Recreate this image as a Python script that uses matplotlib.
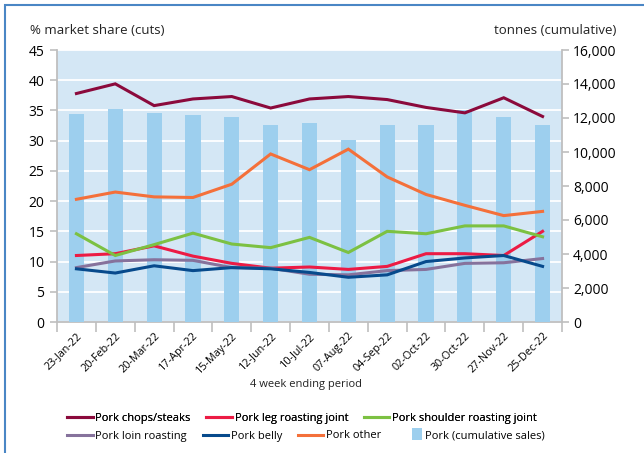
import matplotlib.pyplot as plt
from matplotlib.patches import Rectangle
from matplotlib.legend_handler import HandlerPatch

plt.rcParams['font.family'] = ['Open Sans', 'DejaVu Sans']

periods = ['23-Jan-22', '20-Feb-22', '20-Mar-22', '17-Apr-22', '15-May-22', '12-Jun-22',
           '10-Jul-22', '07-Aug-22', '04-Sep-22', '02-Oct-22', '30-Oct-22', '27-Nov-22',
           '25-Dec-22']

chops = [37.8, 39.4, 35.8, 36.9, 37.3, 35.4, 36.9, 37.3, 36.8, 35.5, 34.6, 37.1, 34.0]
leg = [11.0, 11.3, 12.6, 10.9, 9.7, 8.9, 9.1, 8.7, 9.2, 11.3, 11.3, 11.0, 15.0]
shoulder = [14.6, 11.0, 12.8, 14.7, 12.9, 12.3, 14.0, 11.5, 15.0, 14.6, 15.9, 15.9, 14.1]
loin = [9.0, 10.1, 10.3, 10.2, 9.0, 8.9, 7.9, 7.8, 8.5, 8.7, 9.7, 9.8, 10.5]
belly = [8.8, 8.1, 9.3, 8.5, 9.0, 8.8, 8.2, 7.4, 7.8, 10.0, 10.6, 11.0, 9.2]
other = [20.3, 21.5, 20.7, 20.6, 22.8, 27.8, 25.2, 28.6, 24.0, 21.1, 19.3, 17.6, 18.3]
cumulative = [12250, 12500, 12320, 12150, 12080, 11600, 11730, 10720, 11600, 11600, 12450, 12080, 11600]

series = [
    ('Pork chops/steaks', chops, '#8B0A3C'),
    ('Pork leg roasting joint', leg, '#EC1B44'),
    ('Pork shoulder roasting joint', shoulder, '#7CC142'),
    ('Pork loin roasting', loin, '#86729C'),
    ('Pork belly', belly, '#074A8C'),
    ('Pork other', other, '#F4703A'),
]

grey = '#BFBFBF'
x = list(range(len(periods)))

fig = plt.figure(figsize=(6.44, 4.53), dpi=100)
ax = fig.add_axes([57 / 644, 1 - 322 / 453, 505 / 644, 272 / 453])
ax.set_facecolor('#D4E7F5')
ax.set_xlim(-0.5, len(periods) - 0.5)
ax.set_ylim(0, 45)
ax.set_yticks(range(0, 46, 5))
ax.yaxis.grid(True, color='white', lw=1.3)
ax.set_axisbelow(True)

# bars on the right axis
axb = ax.twinx()
axb.bar(x, cumulative, width=0.39, color='#9DCFEE', zorder=2,
        label='Pork (cumulative sales)')
axb.set_ylim(0, 16000)
axb.set_yticks(range(0, 16001, 2000))
axb.set_yticklabels([f'{v:,}' for v in range(0, 16001, 2000)])

# lines on top of bars
axl = ax.twinx()
axl.set_ylim(0, 45)
axl.axis('off')
handles = {}
for name, vals, col in series:
    h, = axl.plot(x, vals, color=col, lw=2.2, label=name, solid_joinstyle='miter')
    handles[name] = h

for a in (ax, axb):
    for s in a.spines.values():
        s.set_color(grey)
        s.set_linewidth(1.3)
    a.spines['top'].set_visible(False)
ax.spines['right'].set_visible(False)
axb.spines['left'].set_visible(False)
axb.spines['bottom'].set_visible(False)

ax.tick_params(axis='y', length=5, color=grey, width=1.2, labelsize=10, pad=4)
axb.tick_params(axis='y', length=5, color=grey, width=1.2, labelsize=10, pad=3)

ax.set_xticks(x)
ax.set_xticklabels(periods, rotation=45, ha='right', rotation_mode='anchor', fontsize=7.8)
ax.tick_params(axis='x', which='major', length=0, pad=6)
ax.set_xticks([i - 0.5 for i in range(len(periods) + 1)], minor=True)
ax.tick_params(axis='x', which='minor', length=7, color=grey, width=1.2)

fig.text(30 / 644, 1 - 30 / 453, '% market share (cuts)', fontsize=9.5,
         ha='left', va='center', color='#222222')
fig.text(616 / 644, 1 - 30 / 453, 'tonnes (cumulative)', fontsize=9.5,
         ha='right', va='center', color='#222222')
fig.text(306 / 644, 1 - 384 / 453, '4 week ending period', fontsize=8,
         ha='center', va='center', color='#222222')


def square_patch(legend, orig_handle, xdescent, ydescent, width, height, fontsize):
    side = height * 1.3
    return Rectangle((width - xdescent - side, -ydescent - height * 0.2), side, height * 1.5)


row1 = ['Pork chops/steaks', 'Pork leg roasting joint', 'Pork shoulder roasting joint']
row2 = ['Pork loin roasting', 'Pork belly', 'Pork other']
bar_handle = axb.patches[0]

leg1 = fig.legend([handles[n] for n in row1], row1, loc='center left',
                  bbox_to_anchor=(67 / 644, 1 - 418 / 453), ncol=3, frameon=False,
                  fontsize=8, handlelength=2.3, handletextpad=0.25, columnspacing=1.4,
                  borderpad=0, borderaxespad=0)
leg2 = fig.legend([handles[n] for n in row2] + [bar_handle], row2 + ['Pork (cumulative sales)'],
                  loc='center left', bbox_to_anchor=(67 / 644, 1 - 436 / 453), ncol=4,
                  frameon=False, fontsize=8, handlelength=2.3, handletextpad=0.25,
                  columnspacing=1.4, borderpad=0, borderaxespad=0,
                  handler_map={bar_handle: HandlerPatch(patch_func=square_patch)})
fig.add_artist(leg1)

# blue frame around the chart
fig.add_artist(Rectangle((4.5 / 644, -0.1), 1.2, 1 - 4.5 / 453 + 0.1,
                         transform=fig.transFigure, fill=False,
                         edgecolor='#4A86C5', lw=1.5))

fig.savefig('out.png', dpi=100)
